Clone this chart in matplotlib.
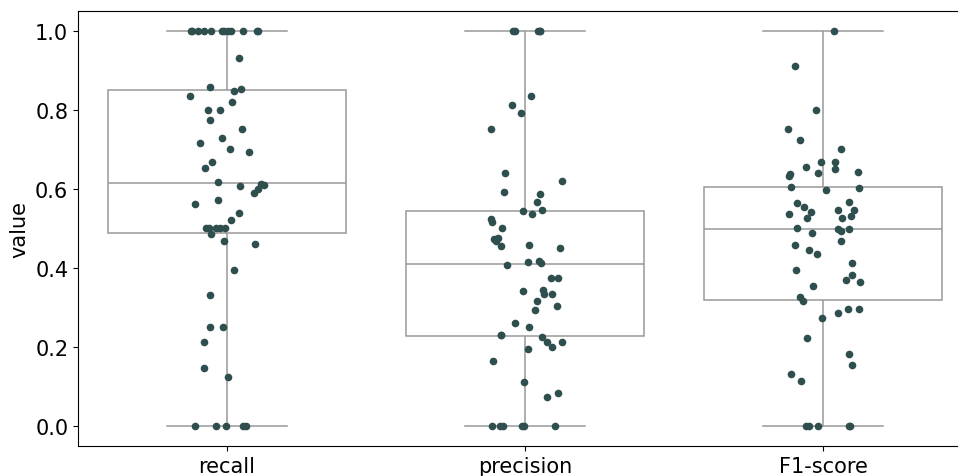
import numpy as np
import pandas as pd
import matplotlib
matplotlib.use('Agg')
import matplotlib.pyplot as plt
import seaborn as sns

metricas = ['recall', 'precision', 'F1-score']

recall = [1.0] * 12 + [
    0.93, 0.859, 0.852, 0.848, 0.835, 0.82, 0.80, 0.80, 0.775, 0.752, 0.729, 0.716,
    0.70, 0.694, 0.667, 0.653, 0.618, 0.612, 0.61, 0.608, 0.60, 0.59, 0.572, 0.562,
    0.539, 0.521, 0.501, 0.501, 0.501, 0.501, 0.501, 0.486, 0.469, 0.462, 0.395,
    0.333, 0.25, 0.25, 0.214, 0.146, 0.125] + [0.0] * 5

precision = [1.0] * 5 + [
    0.835, 0.813, 0.791, 0.752, 0.641, 0.62, 0.592, 0.587, 0.568, 0.546, 0.543, 0.536,
    0.523, 0.517, 0.502, 0.475, 0.473, 0.468, 0.459, 0.456, 0.45, 0.419, 0.415, 0.412,
    0.408, 0.376, 0.376, 0.344, 0.342, 0.334, 0.334, 0.316, 0.305, 0.295, 0.26, 0.251,
    0.23, 0.23, 0.226, 0.214, 0.212, 0.2, 0.195, 0.166, 0.111, 0.084, 0.073] + [0.0] * 6

f1 = [
    1.0, 0.911, 0.80, 0.752, 0.724, 0.70, 0.667, 0.667, 0.655, 0.651, 0.642, 0.641,
    0.638, 0.633, 0.606, 0.603, 0.598, 0.566, 0.564, 0.555, 0.548, 0.547, 0.541, 0.537,
    0.532, 0.527, 0.526, 0.502, 0.50, 0.50, 0.493, 0.489, 0.468, 0.458, 0.446, 0.435,
    0.413, 0.395, 0.382, 0.37, 0.364, 0.354, 0.326, 0.316, 0.296, 0.296, 0.286, 0.273,
    0.223, 0.182, 0.154, 0.133, 0.114] + [0.0] * 5

df = pd.DataFrame({
    'metric': ['recall'] * len(recall) + ['precision'] * len(precision) + ['F1-score'] * len(f1),
    'value': recall + precision + f1,
})

np.random.seed(3)
fig = plt.figure(figsize=(9.58, 4.77), dpi=100)
ax = fig.add_axes([78 / 958, 30 / 477, 894 / 958, 435 / 477])

gris = '#999999'
sns.boxplot(data=df, x='metric', y='value', order=metricas, ax=ax, width=0.8,
            color='white', linecolor=gris, linewidth=1.1, showfliers=False)
sns.stripplot(data=df, x='metric', y='value', order=metricas, ax=ax,
              color='#2f4f4f', size=5.5, jitter=0.13)

ax.set_xlim(-0.5, 2.5)
ax.set_ylim(-0.05, 1.05)
ax.set_xlabel('')
ax.set_ylabel('value', fontsize=15)
ax.tick_params(labelsize=15)

fig.savefig('out.png', dpi=100)
